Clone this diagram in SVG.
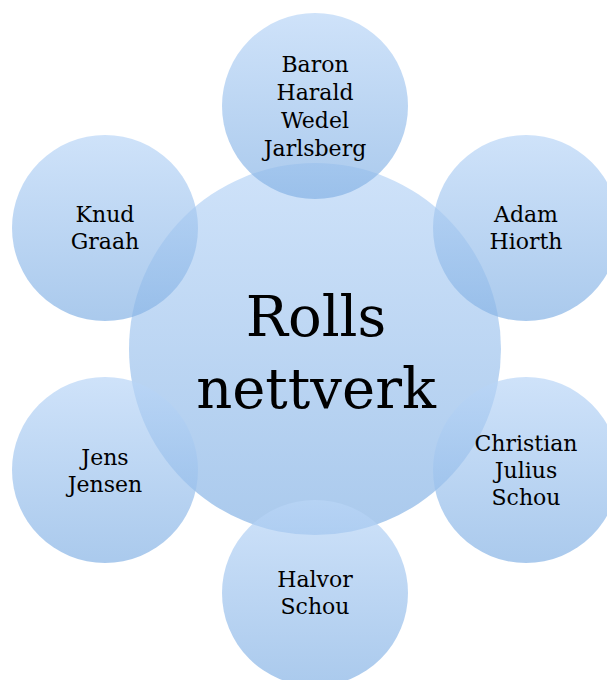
<svg xmlns="http://www.w3.org/2000/svg" width="607" height="680" viewBox="0 0 607 680">
<defs>
<linearGradient id="g" x1="0" y1="0" x2="0" y2="1">
<stop offset="0" stop-color="rgb(186,214,247)"/>
<stop offset="1" stop-color="rgb(134,179,229)"/>
</linearGradient>
<style>
.c{fill:url(#g);fill-opacity:0.7}
.t{font-family:"DejaVu Serif","Liberation Serif",serif;font-size:22px;fill:#000;text-anchor:middle}
.big{font-size:56px}
</style>
</defs>
<rect width="607" height="680" fill="#fff"/>
<g id="connectors"/>
<g id="center">
<circle class="c" cx="315" cy="349" r="186"/>
<text class="t big" x="316" y="336">Rolls</text>
<text class="t big" x="316" y="408">nettverk</text>
</g>
<g id="baron">
<circle class="c" cx="315" cy="106" r="93"/>
<text class="t" x="315" y="71.5">Baron</text>
<text class="t" x="315" y="99.5">Harald</text>
<text class="t" x="315" y="127.5">Wedel</text>
<text class="t" x="315" y="155.5">Jarlsberg</text>
</g>
<g id="knud">
<circle class="c" cx="105" cy="228" r="93"/>
<text class="t" x="105" y="222">Knud</text>
<text class="t" x="105" y="248.5">Graah</text>
</g>
<g id="adam">
<circle class="c" cx="526" cy="228" r="93"/>
<text class="t" x="526" y="222">Adam</text>
<text class="t" x="526" y="248.5">Hiorth</text>
</g>
<g id="jens">
<circle class="c" cx="105" cy="470" r="93"/>
<text class="t" x="105" y="465">Jens</text>
<text class="t" x="105" y="492">Jensen</text>
</g>
<g id="christian">
<circle class="c" cx="526" cy="470" r="93"/>
<text class="t" x="526" y="451">Christian</text>
<text class="t" x="526" y="478">Julius</text>
<text class="t" x="526" y="505">Schou</text>
</g>
<g id="halvor">
<circle class="c" cx="315" cy="593" r="93"/>
<text class="t" x="315" y="587">Halvor</text>
<text class="t" x="315" y="613.5">Schou</text>
</g>
</svg>
